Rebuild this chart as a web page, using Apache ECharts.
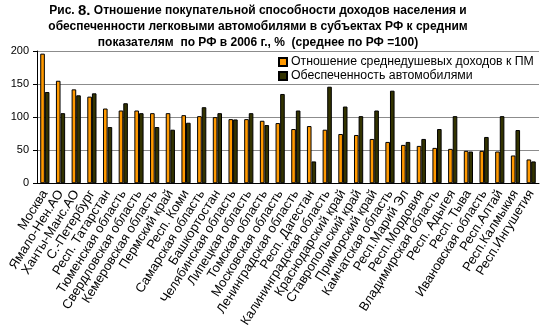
<!DOCTYPE html>
<html><head><meta charset="utf-8">
<script src="https://cdn.jsdelivr.net/npm/echarts@6/dist/echarts.min.js"></script>
<style>html,body{margin:0;padding:0;background:#fff}#c{width:549px;height:330px}</style>
</head><body><div id="c"></div>
<script>
const categories = ['Москва','Ямало-Нен.АО','Ханты-Манс.АО','С.-Петербург','Респ. Татарстан','Тюменская область','Свердловская область','Кемеровская область','Пермский край','Респ. Коми','Самарская область','Башкортостан','Челябинская область','Липецкая область','Томская область','Московская область','Ленинградская область','Респ. Дагестан','Калининградская область','Краснодарский край','Ставропольский край','Приморский край','Камчатская область','Респ.Марий Эл','Респ.Мордовия','Владимирская область','Респ. Адыгея','Респ. Тыва','Ивановская область','Респ.Алтай','Респ.Калмыкия','Респ.Ингушетия'];
const incomeRatio = [196,155,142,131,113,110,110,106,106,103,101.5,100,97,97,94.5,91,82,86.5,81,74.5,73,67,62.5,58,56.5,53.5,52,49,49,48,42,36];
const carOwnership = [138,106,133,136,85,121,106,85,81,91.5,115,106,96.5,106,88,135,110,33,146,116,101.5,110,140,62.5,67,82,101.5,48,70,101.5,80.5,33];
const yTicks = [0,50,100,150,200];
const seriesNames = ['Отношение среднедушевых доходов к ПМ','Обеспеченность автомобилями'];

const chart = echarts.init(document.getElementById('c'), null, {renderer:'canvas'});
const FONT = '"Liberation Sans", Arial, sans-serif';
chart.setOption({
  animation:false,
  backgroundColor:'#fff',
  graphic:[{
    type:'text', x:258, y:3,
    style:{
      text:'{a|Рис. }{b|8.}{a| Отношение покупательной способности доходов населения и}\n{a|обеспеченности легковыми автомобилями в субъектах РФ к средним}\n{a|показателям  по РФ в 2006 г., %  (среднее по РФ =100)}',
      textAlign:'center',
      rich:{
        a:{fontFamily:FONT,fontSize:12,fontWeight:'bold',color:'#000',lineHeight:16},
        b:{fontFamily:FONT,fontSize:15,fontWeight:'bold',color:'#000',lineHeight:16}
      }
    }
  }],
  legend:{
    orient:'vertical', left:278, top:55, itemWidth:8, itemHeight:8, itemGap:0,
    icon:'rect', padding:0,
    textStyle:{fontFamily:FONT,fontSize:12.3,color:'#000',lineHeight:14,padding:[0,0,0,-1]},
    data:seriesNames
  },
  grid:{left:37,right:10,top:51,bottom:146},
  xAxis:{
    type:'category', data:categories,
    axisLine:{lineStyle:{color:'#000',width:1}},
    axisTick:{show:false},
    axisLabel:{interval:0, rotate:58, fontFamily:FONT, fontSize:13, color:'#000', margin:8}
  },
  yAxis:{
    type:'value', min:0, max:200, interval:50,
    axisLine:{show:true,lineStyle:{color:'#000'}},
    axisTick:{show:true,length:4,lineStyle:{color:'#000'}},
    axisLabel:{fontFamily:FONT,fontSize:11,color:'#000',margin:8,
      formatter:v=>yTicks.includes(v)?String(v):''},
    splitLine:{lineStyle:{color:'#8c8c8c',width:1}}
  },
  series:[
    {name:seriesNames[0], type:'bar', data:incomeRatio, barWidth:4.6, barGap:'0%',
     itemStyle:{color:'#FF9900',borderColor:'#000',borderWidth:1}},
    {name:seriesNames[1], type:'bar', data:carOwnership, barWidth:4.6, barGap:'0%',
     itemStyle:{color:'#333300',borderColor:'#000',borderWidth:1}}
  ]
});
</script></body></html>
